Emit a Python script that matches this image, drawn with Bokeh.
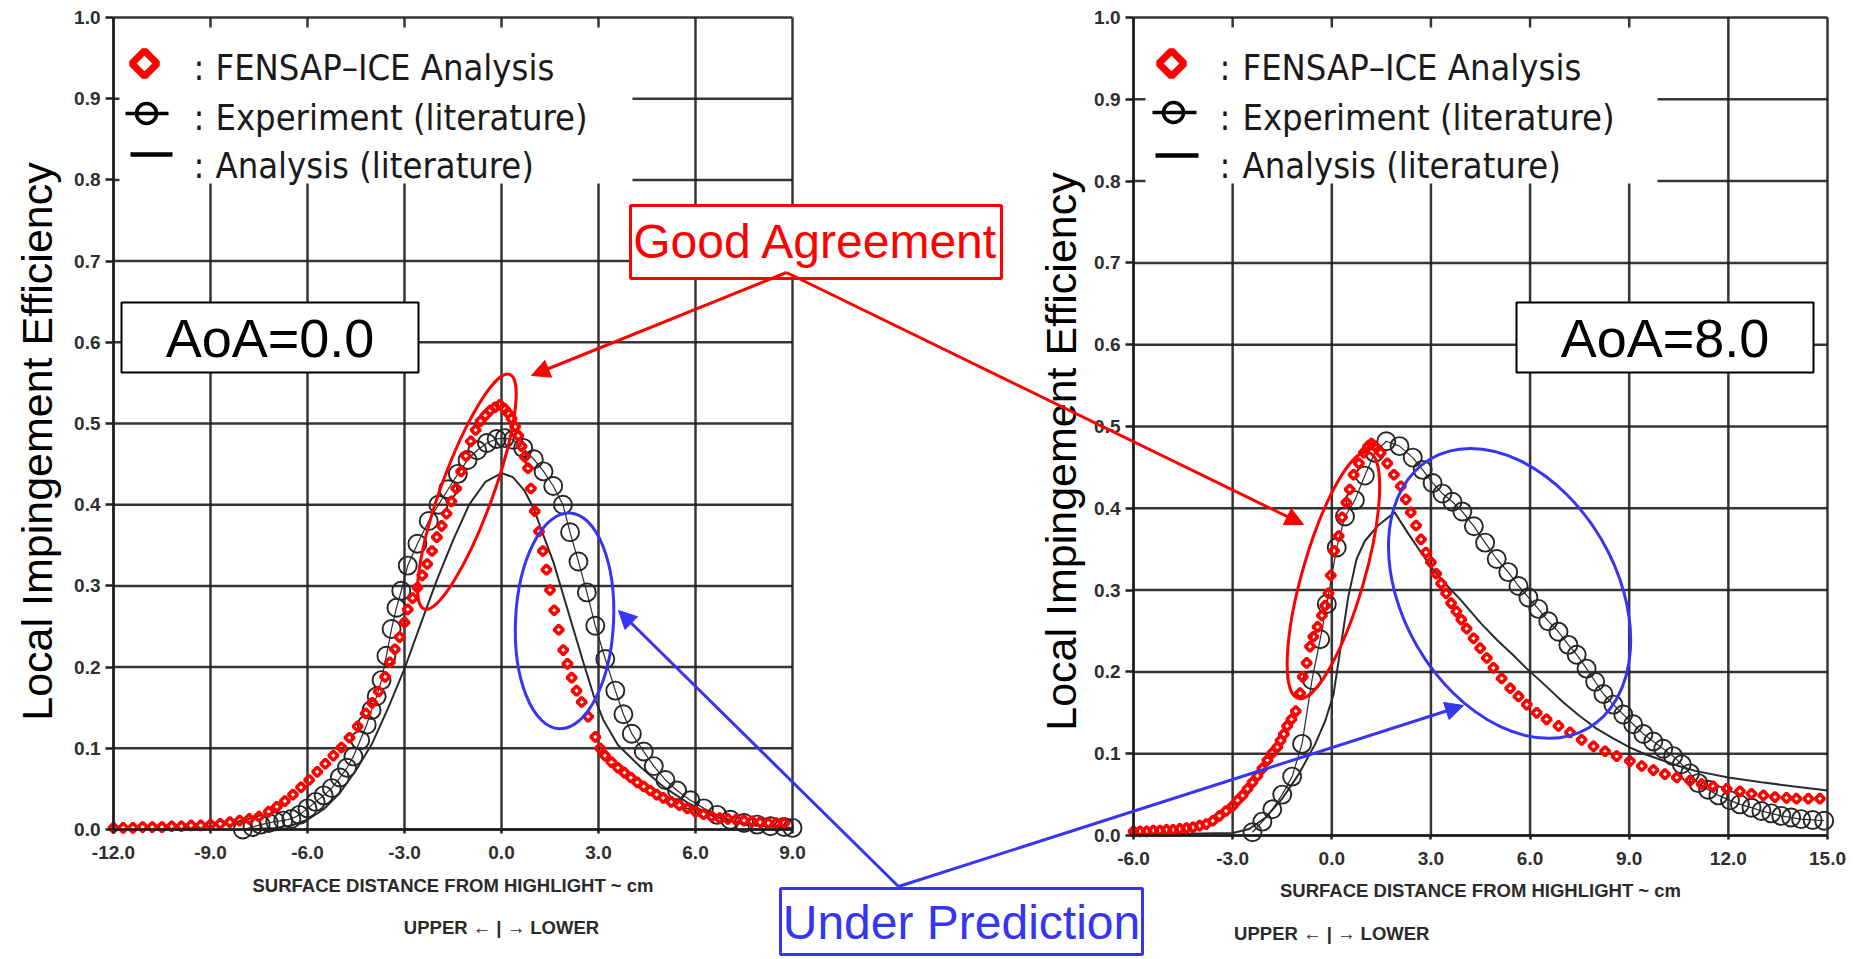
import math
from bokeh.plotting import figure
from bokeh.models import Range1d, LinearAxis, FixedTicker, PrintfTickFormatter, Arrow, NormalHead
from bokeh.core.properties import value
from bokeh.embed import file_html
from bokeh.resources import INLINE

# ------------------------------------------------------------------ data
y_ticks = [0.0, 0.1, 0.2, 0.3, 0.4, 0.5, 0.6, 0.7, 0.8, 0.9, 1.0]
x_ticks_aoa0 = [-12.0, -9.0, -6.0, -3.0, 0.0, 3.0, 6.0, 9.0]
x_ticks_aoa8 = [-6.0, -3.0, 0.0, 3.0, 6.0, 9.0, 12.0, 15.0]

legend_labels = ["FENSAP\u2013ICE Analysis", "Experiment (literature)", "Analysis (literature)"]
panel_labels = ["AoA=0.0", "AoA=8.0"]
y_title = "Local Impingement Efficiency"
x_title = "SURFACE DISTANCE FROM HIGHLIGHT ~ cm"
x_subtitle = "UPPER \u2190 | \u2192 LOWER"
callouts = ["Good Agreement", "Under Prediction"]

# AoA = 0.0
fensap_aoa0_x = [-12.0, -11.7, -11.4, -11.1, -10.8, -10.5, -10.2, -9.9, -9.6, -9.3, -9.0,
                 -8.7, -8.4, -8.1, -7.8, -7.5, -7.2,
                 -6.95, -6.7, -6.45, -6.2, -5.95, -5.7, -5.45, -5.2, -4.95, -4.7, -4.45, -4.2,
                 -4.0, -3.8, -3.6, -3.45, -3.3, -3.15, -3.0,
                 -2.9, -2.75, -2.6, -2.45, -2.3, -2.15, -2.0, -1.85, -1.7, -1.55, -1.4, -1.25,
                 -1.1, -0.95, -0.8, -0.65, -0.5, -0.35, -0.2, -0.05,
                 0.1, 0.2, 0.31, 0.42, 0.52, 0.62, 0.72, 0.82, 0.91, 1.03,
                 1.16, 1.28, 1.39, 1.5, 1.63, 1.77, 1.91, 2.04, 2.17, 2.32,
                 2.48, 2.68, 2.9, 3.05, 3.2, 3.4, 3.6, 3.8, 4.0, 4.2,
                 4.4, 4.6, 4.8, 5.0, 5.25, 5.5, 5.75, 6.0, 6.25, 6.5,
                 6.75, 7.0, 7.25, 7.5, 7.75, 8.0, 8.25, 8.5, 8.75]
fensap_aoa0_y = [0.002, 0.002, 0.002, 0.003, 0.003, 0.003, 0.004, 0.004, 0.005, 0.005, 0.006,
                 0.007, 0.009, 0.011, 0.013, 0.016, 0.022,
                 0.028, 0.035, 0.043, 0.052, 0.061, 0.071, 0.081, 0.091, 0.101, 0.113, 0.127, 0.143,
                 0.156, 0.170, 0.188, 0.206, 0.222, 0.237, 0.255,
                 0.271, 0.285, 0.298, 0.313, 0.327, 0.343, 0.360, 0.374, 0.389, 0.404, 0.420, 0.441,
                 0.460, 0.478, 0.492, 0.503, 0.510, 0.516, 0.520, 0.523,
                 0.518, 0.513, 0.506, 0.496, 0.485, 0.472, 0.459, 0.445, 0.420, 0.392,
                 0.367, 0.343, 0.320, 0.295, 0.270, 0.246, 0.221, 0.204, 0.187, 0.171,
                 0.157, 0.139, 0.114, 0.100, 0.091, 0.083, 0.076, 0.070, 0.064, 0.058,
                 0.053, 0.048, 0.043, 0.039, 0.034, 0.030, 0.026, 0.022, 0.019, 0.016,
                 0.014, 0.013, 0.012, 0.011, 0.010, 0.009, 0.008, 0.008, 0.008]
exp_aoa0_x = [-8.0, -7.7, -7.45, -7.2, -7.0, -6.75, -6.5, -6.25, -6.0, -5.75,
              -5.5, -5.25, -5.0, -4.78, -4.58, -4.37, -4.17, -4.02, -3.86, -3.71,
              -3.56, -3.40, -3.25, -3.10, -2.90, -2.6, -2.25, -1.95, -1.65, -1.35,
              -1.05, -0.75, -0.45, -0.15, 0.1, 0.36, 0.67, 1.0, 1.3, 1.6,
              1.9, 2.12, 2.38, 2.64, 2.9, 3.21, 3.52, 3.77, 4.03, 4.4,
              4.71, 5.07, 5.43, 5.84, 6.26, 6.67, 7.08, 7.5, 7.91, 8.32,
              8.74, 9.0]
exp_aoa0_y = [0.000, 0.003, 0.006, 0.008, 0.010, 0.011, 0.013, 0.018, 0.026, 0.034,
              0.042, 0.051, 0.064, 0.076, 0.090, 0.110, 0.129, 0.147, 0.164, 0.184,
              0.214, 0.247, 0.273, 0.294, 0.325, 0.352, 0.380, 0.400, 0.419, 0.438,
              0.455, 0.467, 0.476, 0.481, 0.482, 0.480, 0.470, 0.456, 0.441, 0.423,
              0.400, 0.366, 0.330, 0.292, 0.251, 0.210, 0.171, 0.142, 0.118, 0.096,
              0.078, 0.061, 0.048, 0.036, 0.026, 0.018, 0.012, 0.008, 0.006, 0.004,
              0.003, 0.002]
ana_aoa0_x = [-8.0, -7.0, -6.5, -6.0, -5.5, -5.0, -4.5, -4.0, -3.5, -3.0, -2.5, -2.0,
              -1.5, -1.0, -0.5, 0.0, 0.35, 0.7, 1.0, 1.3, 1.6, 1.9, 2.2, 2.5, 2.85,
              3.15, 3.6, 4.3, 5.0, 5.75, 6.5, 7.5, 8.5, 9.0]
ana_aoa0_y = [0.000, 0.002, 0.005, 0.012, 0.025, 0.045, 0.073, 0.106, 0.150, 0.198, 0.253, 0.307,
              0.356, 0.400, 0.428, 0.439, 0.434, 0.418, 0.395, 0.362, 0.330, 0.290, 0.250, 0.210, 0.165,
              0.135, 0.104, 0.077, 0.053, 0.033, 0.017, 0.006, 0.003, 0.002]

# AoA = 8.0
fensap_aoa8_x = [-6.0, -5.8, -5.6, -5.4, -5.2, -5.0, -4.8, -4.6, -4.4, -4.2,
                 -4.0, -3.8, -3.6, -3.4, -3.2, -3.0, -2.85, -2.7, -2.55, -2.4,
                 -2.25, -2.1, -1.95, -1.8, -1.65, -1.55, -1.45, -1.35, -1.22, -1.09,
                 -0.96, -0.88, -0.76, -0.66, -0.56, -0.43, -0.3, -0.2, -0.1, -0.03,
                 0.07, 0.21, 0.31, 0.44, 0.54, 0.66, 0.82, 0.97, 1.1, 1.2,
                 1.3, 1.48, 1.68, 1.88, 2.09, 2.24, 2.39, 2.55, 2.7, 2.85,
                 3.0, 3.16, 3.31, 3.46, 3.61, 3.77, 3.92, 4.08, 4.29, 4.49,
                 4.69, 4.89, 5.14, 5.4, 5.65, 5.9, 6.2, 6.5, 6.86, 7.21,
                 7.56, 7.92, 8.27, 8.62, 9.02, 9.38, 9.73, 10.08, 10.44, 10.84,
                 11.19, 11.54, 11.95, 12.35, 12.7, 13.06, 13.41, 13.76, 14.06, 14.42,
                 14.77]
fensap_aoa8_y = [0.005, 0.005, 0.005, 0.006, 0.006, 0.007, 0.007, 0.008, 0.009, 0.010,
                 0.012, 0.014, 0.018, 0.024, 0.030, 0.036, 0.043, 0.049, 0.057, 0.065,
                 0.073, 0.082, 0.092, 0.101, 0.108, 0.116, 0.124, 0.134, 0.142, 0.152,
                 0.174, 0.194, 0.211, 0.231, 0.243, 0.255, 0.269, 0.281, 0.296, 0.318,
                 0.348, 0.366, 0.389, 0.407, 0.423, 0.441, 0.455, 0.468, 0.476, 0.479,
                 0.476, 0.468, 0.455, 0.441, 0.427, 0.411, 0.395, 0.379, 0.362, 0.346,
                 0.334, 0.320, 0.308, 0.296, 0.284, 0.274, 0.264, 0.253, 0.241, 0.229,
                 0.217, 0.205, 0.192, 0.180, 0.170, 0.160, 0.150, 0.142, 0.134, 0.126,
                 0.117, 0.109, 0.103, 0.097, 0.091, 0.085, 0.080, 0.075, 0.071, 0.067,
                 0.063, 0.060, 0.057, 0.054, 0.051, 0.049, 0.047, 0.046, 0.045, 0.045,
                 0.045]
exp_aoa8_x = [-2.4, -2.1, -1.8, -1.5, -1.2, -0.9, -0.6, -0.35, -0.15, 0.15,
              0.4, 0.7, 1.0, 1.3, 1.65, 2.05, 2.45, 2.75, 3.05, 3.35,
              3.65, 3.95, 4.3, 4.64, 4.99, 5.34, 5.65, 5.95, 6.25, 6.55,
              6.86, 7.16, 7.41, 7.71, 7.97, 8.22, 8.52, 8.82, 9.12, 9.43,
              9.73, 10.03, 10.33, 10.59, 10.84, 11.09, 11.39, 11.7, 12.05, 12.35,
              12.7, 13.0, 13.3, 13.6, 13.9, 14.2, 14.55, 14.9]
exp_aoa8_y = [0.004, 0.017, 0.032, 0.050, 0.072, 0.112, 0.190, 0.240, 0.283, 0.352,
              0.390, 0.410, 0.440, 0.468, 0.482, 0.476, 0.462, 0.447, 0.431, 0.418,
              0.408, 0.396, 0.378, 0.358, 0.338, 0.322, 0.305, 0.291, 0.277, 0.262,
              0.249, 0.233, 0.221, 0.204, 0.188, 0.173, 0.160, 0.148, 0.136, 0.124,
              0.115, 0.106, 0.097, 0.087, 0.076, 0.064, 0.056, 0.049, 0.043, 0.038,
              0.034, 0.030, 0.027, 0.024, 0.022, 0.020, 0.019, 0.018]
ana_aoa8_x = [-6.0, -4.5, -3.0, -2.5, -2.0, -1.5, -1.0, -0.5, -0.2, 0.05,
              0.25, 0.5, 0.75, 1.0, 1.4, 1.9, 2.3, 2.7, 3.1, 3.5,
              3.9, 4.5, 5.0, 5.5, 5.9, 6.5, 7.0, 7.5, 8.0, 8.5,
              9.0, 9.5, 10.0, 10.5, 11.0, 12.0, 13.0, 14.0, 15.0]
ana_aoa8_y = [0.002, 0.002, 0.003, 0.008, 0.022, 0.045, 0.075, 0.112, 0.140, 0.172,
              0.225, 0.292, 0.338, 0.360, 0.379, 0.395, 0.370, 0.346, 0.323, 0.305,
              0.288, 0.260, 0.239, 0.220, 0.204, 0.182, 0.163, 0.146, 0.131, 0.119,
              0.108, 0.099, 0.092, 0.085, 0.079, 0.071, 0.065, 0.060, 0.055]

# ------------------------------------------------------------------ layout / style
W, H, MARGIN = 1850, 956, 0
GRID = "#1f1f1f"
RED = "#ff0000"
BLUE = "#3535f2"
SANS = "Liberation Sans"
NARROW = "DejaVu Sans Condensed, Liberation Sans Narrow, Liberation Sans"

# axis anchors: (value0, page_px0, value1, page_px1)
A0_X = (-12.0, 113.0, 9.0, 792.0)
A0_Y = (0.0, 829.0, 1.0, 17.0)
A8_X = (-6.0, 1133.0, 15.0, 1827.0)
A8_Y = (0.0, 835.0, 1.0, 17.0)


def to_val(a, px):
    v0, p0, v1, p1 = a
    return v0 + (px - p0) * (v1 - v0) / (p1 - p0)


def x_range_of(a):
    return Range1d(to_val(a, MARGIN), to_val(a, MARGIN + W))


def y_range_of(a):
    return Range1d(to_val(a, MARGIN + H), to_val(a, MARGIN))


p = figure(width=W, height=H, x_range=x_range_of(A0_X), y_range=y_range_of(A0_Y),
           x_axis_type=None, y_axis_type=None, toolbar_location=None,
           output_backend="svg", min_border=0)
p.outline_line_color = None
p.background_fill_color = "white"
p.border_fill_color = "white"
p.extra_x_ranges = {"x8": x_range_of(A8_X)}
p.extra_y_ranges = {"y8": y_range_of(A8_Y)}

charts = [
    dict(rk={}, ax=A0_X, ay=A0_Y, xt=x_ticks_aoa0, label=panel_labels[0],
         fensap=(fensap_aoa0_x, fensap_aoa0_y), exp=(exp_aoa0_x, exp_aoa0_y), ana=(ana_aoa0_x, ana_aoa0_y),
         legend_box=(119, 27, 632, 183), leg_diamond=(144, 63), leg_circle=(146, 113, 125, 168),
         leg_line=(130, 172, 154), leg_colon=193, leg_text=215, leg_base=(67, 117, 165),
         panel_box=(121, 302, 418, 372), ytitle=(36, 441), xtitle_y=885, xsub_y=927,
         ellipses=[(-1.07, 0.416, 52, 250, -0.35, RED), (1.95, 0.257, 98, 216, -0.05, BLUE)]),
    dict(rk=dict(x_range_name="x8", y_range_name="y8"), ax=A8_X, ay=A8_Y, xt=x_ticks_aoa8, label=panel_labels[1],
         fensap=(fensap_aoa8_x, fensap_aoa8_y), exp=(exp_aoa8_x, exp_aoa8_y), ana=(ana_aoa8_x, ana_aoa8_y),
         legend_box=(1145, 27, 1657, 183), leg_diamond=(1171, 63), leg_circle=(1173, 112, 1152, 1196),
         leg_line=(1155, 1198, 155), leg_colon=1219, leg_text=1242, leg_base=(67, 117, 165),
         panel_box=(1516, 302, 1813, 372), ytitle=(1060, 451), xtitle_y=890, xsub_y=933,
         ellipses=[(0.05, 0.318, 62, 256, -0.28, RED), (5.38, 0.296, 213, 312, 0.53, BLUE)]),
]


def style_axis(ax):
    ax.axis_line_color = GRID
    ax.axis_line_width = 2.5
    ax.major_tick_line_color = GRID
    ax.major_tick_line_width = 2.5
    ax.major_tick_in = 0
    ax.minor_tick_in = 0
    ax.minor_tick_out = 0
    ax.major_label_text_font = SANS
    ax.major_label_text_font_style = "bold"
    ax.major_label_text_font_size = "19px"
    ax.major_label_text_color = "#2e2e2e"


# grids + boxes first
for c in charts:
    rk = c["rk"]
    xt = c["xt"]
    X = lambda px, c=c: to_val(c["ax"], px)
    Y = lambda py, c=c: to_val(c["ay"], py)
    lo, hi = y_ticks[0], y_ticks[-1]
    p.segment(x0=xt, y0=[lo] * len(xt), x1=xt, y1=[hi] * len(xt),
              line_color=GRID, line_width=2.5, line_alpha=0.9, **rk)
    p.segment(x0=[xt[0]] * len(y_ticks), y0=y_ticks, x1=[xt[-1]] * len(y_ticks), y1=y_ticks,
              line_color=GRID, line_width=2.5, line_alpha=0.9, **rk)
    l, t, r, b = c["legend_box"]
    p.quad(left=[X(l)], right=[X(r)], top=[Y(t)], bottom=[Y(b)],
           fill_color="white", line_color=None, **rk)
    l, t, r, b = c["panel_box"]
    p.quad(left=[X(l)], right=[X(r)], top=[Y(t)], bottom=[Y(b)],
           fill_color="white", line_color="black", line_width=2, **rk)
    p.text(x=[X((l + r) / 2)], y=[Y((t + b) / 2)], text=[c["label"]],
           text_font=value(SANS), text_font_size="54px", text_color="black",
           text_align="center", text_baseline="middle", **rk)

    # axes
    yax = LinearAxis(fixed_location=xt[0], bounds=(lo, hi), ticker=FixedTicker(ticks=y_ticks),
                     formatter=PrintfTickFormatter(format="%.1f"), **rk)
    style_axis(yax)
    yax.major_tick_out = 8
    yax.major_label_standoff = 5
    p.add_layout(yax, "left")
    xax = LinearAxis(fixed_location=lo, bounds=(xt[0], xt[-1]), ticker=FixedTicker(ticks=xt),
                     formatter=PrintfTickFormatter(format="%.1f"), **rk)
    style_axis(xax)
    xax.major_tick_out = 4
    xax.major_label_standoff = 12
    p.add_layout(xax, "below")

    # axis titles
    tx, ty = c["ytitle"]
    p.text(x=[X(tx)], y=[Y(ty)], text=[y_title], angle=math.pi / 2,
           text_font=value(SANS), text_font_size="43px", text_color="black",
           text_align="center", text_baseline="middle", **rk)
    p.text(x=[(xt[0] + xt[-1]) / 2], y=[Y(c["xtitle_y"])], text=[x_title],
           text_font=value(SANS), text_font_style="bold", text_font_size="18.5px", text_color="#2a2a2a",
           text_align="center", text_baseline="middle", **rk)
    p.text(x=[0.0], y=[Y(c["xsub_y"])], text=[x_subtitle],
           text_font=value(SANS), text_font_style="bold", text_font_size="18.5px", text_color="#2a2a2a",
           text_align="center", text_baseline="middle", **rk)

# data series
for c in charts:
    rk = c["rk"]
    ax_, ay_ = c["ana"]
    ex, ey = c["exp"]
    fx, fy = c["fensap"]
    p.line(ax_, ay_, line_color="#2a2a2a", line_width=2, **rk)
    p.line(ex, ey, line_color="#2a2a2a", line_width=1.2, **rk)
    p.scatter(ex, ey, marker="circle", size=18, fill_color=None,
              line_color="#262626", line_width=1.9, **rk)
    p.scatter(fx, fy, marker="square", angle=math.pi / 4, size=6.5, fill_color=None,
              line_color=RED, line_width=3.5, **rk)

# legends + ellipses
for c in charts:
    rk = c["rk"]
    X = lambda px, c=c: to_val(c["ax"], px)
    Y = lambda py, c=c: to_val(c["ay"], py)
    dx, dy = c["leg_diamond"]
    p.scatter([X(dx)], [Y(dy)], marker="square", angle=math.pi / 4, size=18, fill_color=None,
              line_color=RED, line_width=7, **rk)
    cx, cy, s0, s1 = c["leg_circle"]
    p.segment(x0=[X(s0)], y0=[Y(cy)], x1=[X(s1)], y1=[Y(cy)], line_color="black", line_width=3.5, **rk)
    p.scatter([X(cx)], [Y(cy)], marker="circle", size=20, fill_color=None,
              line_color="black", line_width=3.5, **rk)
    l0, l1, ly = c["leg_line"]
    p.segment(x0=[X(l0)], y0=[Y(ly)], x1=[X(l1)], y1=[Y(ly)], line_color="black", line_width=4.5, **rk)
    bases = [Y(b) for b in c["leg_base"]]
    p.text(x=[X(c["leg_colon"])] * 3, y=bases, text=[":"] * 3,
           text_font=value(NARROW), text_font_size="36px", text_color="#1a1a1a",
           text_align="left", text_baseline="alphabetic", **rk)
    p.text(x=[X(c["leg_text"])] * 3, y=bases, text=legend_labels,
           text_font=value(NARROW), text_font_size="36px", text_color="#1a1a1a",
           text_align="left", text_baseline="alphabetic", **rk)
    for (ex_, ey_, w, h, ang, col) in c["ellipses"]:
        p.ellipse(x=[ex_], y=[ey_], width=[w], height=[h], angle=[ang],
                  width_units="screen", height_units="screen",
                  fill_color=None, line_color=col, line_width=3, **rk)

# call-out boxes and arrows (page positions, left-chart coordinates)
LX = lambda px: to_val(A0_X, px)
LY = lambda py: to_val(A0_Y, py)
boxes = [((630, 205, 1001, 278), RED, callouts[0], 241), ((780, 888, 1142, 954), BLUE, callouts[1], 922)]
for (l, t, r, b), col, txt, tcy in boxes:
    p.quad(left=[LX(l)], right=[LX(r)], top=[LY(t)], bottom=[LY(b)],
           fill_color="white", line_color=col, line_width=3)
    p.text(x=[LX((l + r) / 2)], y=[LY(tcy)], text=[txt], text_font=value(SANS),
           text_font_size="48px", text_color=col, text_align="center", text_baseline="middle")

arrows = [((786, 272), (531, 375), RED), ((786, 272), (1303, 524), RED),
          ((898, 886), (618, 610), BLUE), ((898, 886), (1463, 705), BLUE)]
for (sx, sy), (tx, ty), col in arrows:
    p.add_layout(Arrow(x_start=LX(sx), y_start=LY(sy), x_end=LX(tx), y_end=LY(ty),
                       line_color=col, line_width=3,
                       end=NormalHead(size=18, fill_color=col, line_color=col, line_width=1)))

open("out.html", "w").write(file_html(p, INLINE))
